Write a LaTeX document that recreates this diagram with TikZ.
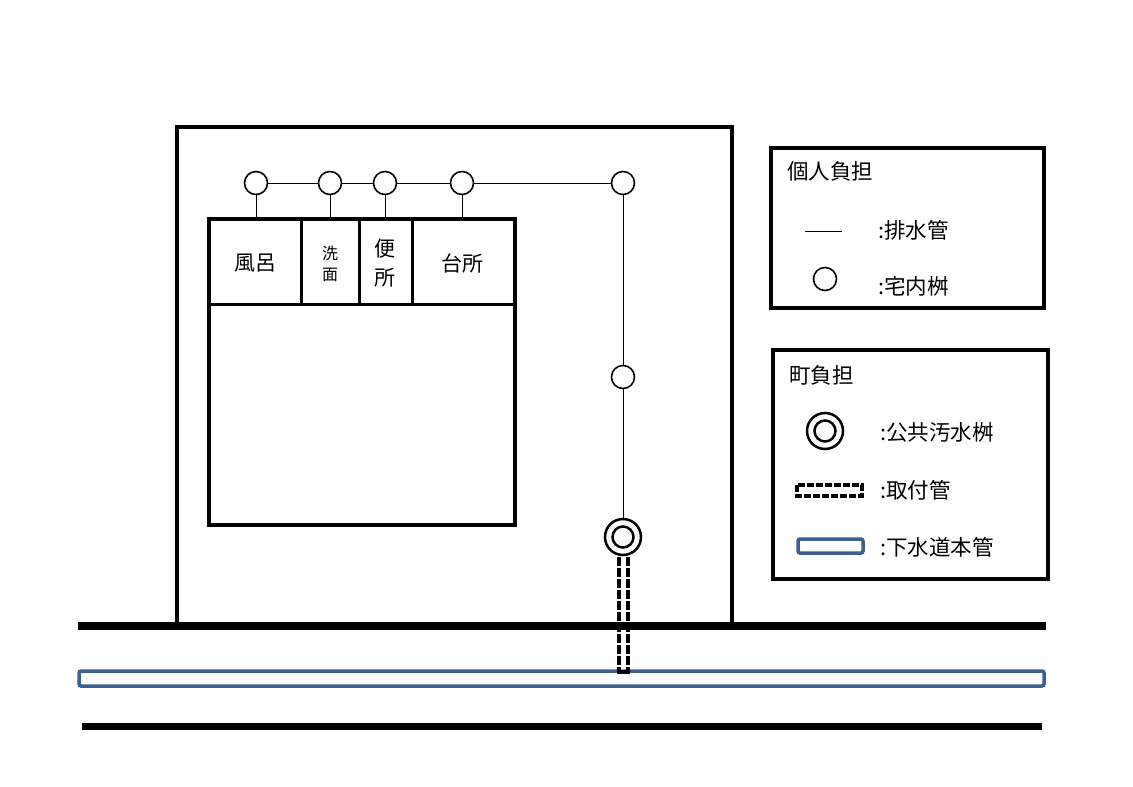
\documentclass[tikz,border=0pt]{standalone}
\usepackage{fontspec}
\setmainfont{Noto Sans CJK JP}
\begin{document}
\begin{tikzpicture}[x=1pt,y=-1pt,
  thick4/.style={line width=3.5pt},
  pipe/.style={line width=1pt},
  masu/.style={circle,draw,line width=1.6pt,minimum size=23pt,inner sep=0pt,fill=white},
  lbl/.style={font=\fontsize{21.5}{21.5}\selectfont,anchor=west,inner sep=0pt},
  room/.style={font=\fontsize{21}{29}\selectfont,align=center,inner sep=0pt},
  mainblue/.style={draw=pipeblue,line width=3.5pt,rounded corners=2pt,fill=white}]
\definecolor{pipeblue}{HTML}{3C5F8F}
\useasboundingbox (0,0) rectangle (1133,787);
% house
\draw[thick4] (177,622) -- (177,127) -- (732,127) -- (732,622);
% rooms
\draw[thick4] (209,219) rectangle (515,525);
\draw[line width=3pt] (209,304) -- (515,304);
\foreach \x in {301,359,412} \draw[line width=3pt] (\x,219) -- (\x,304);
\node[room] (furo) at (255,263) {風呂};
\node[room,font=\fontsize{16}{21}\selectfont] (sen) at (330,264) {洗\\面};
\node[room] (ben) at (385,263) {便\\所};
\node[room] (dai) at (462,263) {台所};
% road lines
\draw[line width=8pt] (78,626) -- (1046,626);
\draw[line width=7pt] (82,726) -- (1042,726);
% main pipe
\draw[mainblue] (79,671) rectangle (1044,686);
% toritsuke
\draw[line width=4pt,dash pattern=on 9pt off 2pt] (619,546) -- (619,672);
\draw[line width=4pt,dash pattern=on 9pt off 2pt] (628,546) -- (628,672);
\draw[line width=4pt] (617,672) -- (630,672);
% pipes and masu
\coordinate (c1) at (256,219); \coordinate (c2) at (330,219);
\coordinate (c3) at (385,219); \coordinate (c4) at (462,219);
\draw[pipe] (256,183) -- (623,183) -- (623,537);
\node[masu] (m1) at (256,183) {};
\node[masu] (m2) at (330,183) {};
\node[masu] (m3) at (385,183) {};
\node[masu] (m4) at (462,183) {};
\node[masu] (m5) at (623,183) {};
\node[masu] (m6) at (623,377) {};
\draw[pipe] (m1) -- (c1); \draw[pipe] (m2) -- (c2);
\draw[pipe] (m3) -- (c3); \draw[pipe] (m4) -- (c4);
\node[circle,draw,line width=2.5pt,minimum size=36pt,inner sep=0pt,fill=white] (pm) at (623,537) {};
\node[circle,draw,line width=2.5pt,minimum size=21pt,inner sep=0pt] at (pm) {};
% legend 1
\draw[thick4] (771,148) rectangle (1044,308);
\node[lbl] (h1) at (787,171) {個人負担};
\draw[pipe] (805,231) -- (842,231);
\node[lbl] (t1) at (878,230) {:排水管};
\node[masu] (lm) at (825,279) {};
\node[lbl] (t2) at (878,286) {:宅内桝};
% legend 2
\draw[thick4] (773,350) rectangle (1048,579);
\node[lbl] (h2) at (789,375) {町負担};
\node[circle,draw,line width=2.5pt,minimum size=36pt,inner sep=0pt] (lpm) at (825,431) {};
\node[circle,draw,line width=2.5pt,minimum size=21pt,inner sep=0pt] at (lpm) {};
\node[lbl] (t3) at (880,432) {:公共汚水桝};
\draw[line width=3.5pt,dash pattern=on 7pt off 2pt] (797,485) rectangle (862,496);
\node[lbl] (t4) at (880,490) {:取付管};
\draw[mainblue] (798,539) rectangle (863,553);
\node[lbl] (t5) at (880,547) {:下水道本管};
\end{tikzpicture}
\end{document}
